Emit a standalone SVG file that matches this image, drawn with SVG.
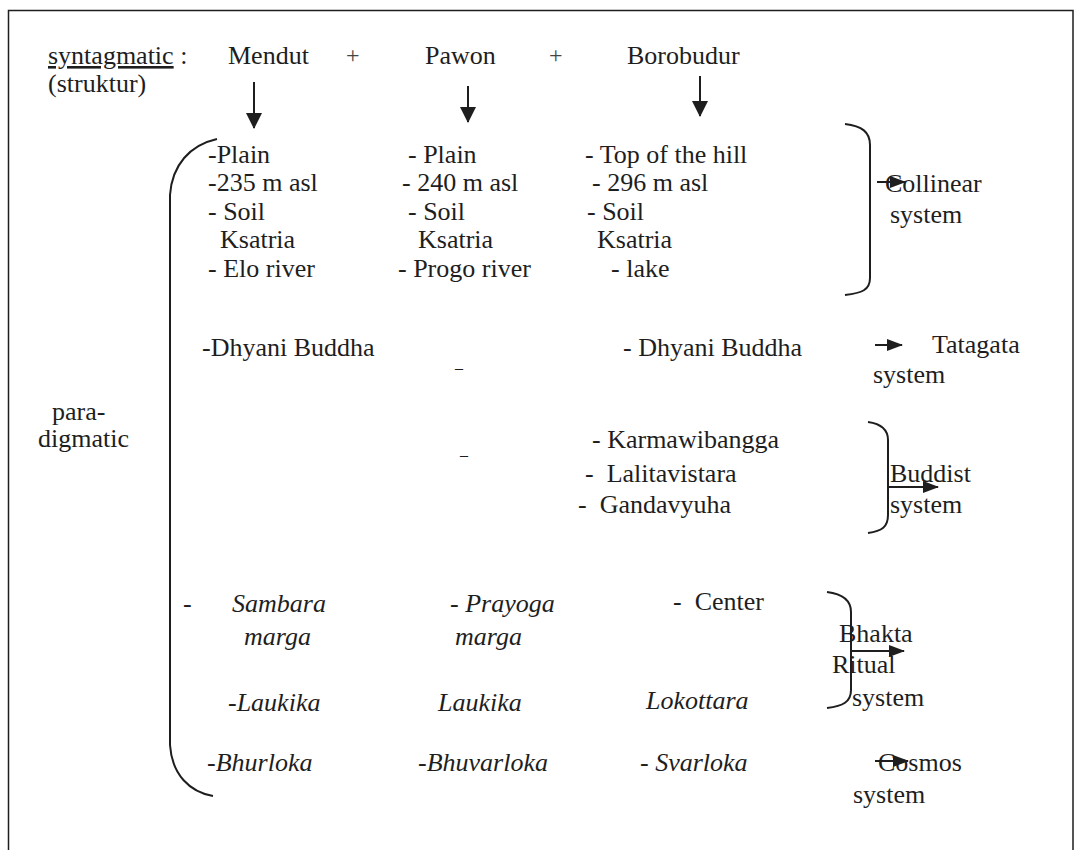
<svg xmlns="http://www.w3.org/2000/svg" width="1080" height="850" viewBox="0 0 1080 850">
<style>
text{font-family:"Liberation Serif","Times New Roman",serif;font-size:26px;fill:#1e1e1e;white-space:pre}
.i{font-style:italic}
.ln{fill:none;stroke:#1e1e1e;stroke-width:2}
.ar{fill:none;stroke:#1e1e1e;stroke-width:2}
.plus{font-size:24px;font-weight:300;fill:#444}
</style>
<defs>
<marker id="hdr" markerWidth="16" markerHeight="12" refX="15" refY="6" orient="auto" markerUnits="userSpaceOnUse" viewBox="0 0 16 12">
<path d="M0,0 L16,6 L0,12 Z" fill="#1e1e1e"/>
</marker>
<marker id="hdd" markerWidth="16" markerHeight="16" refX="15" refY="8" orient="auto" markerUnits="userSpaceOnUse" viewBox="0 0 16 16">
<path d="M0,0 L16,8 L0,16 Z" fill="#1e1e1e"/>
</marker>
</defs>
<rect x="0" y="0" width="1080" height="850" fill="#fff"/>
<path d="M8.5,860 L8.5,10.5 L1073,10.5 L1073,860" fill="none" stroke="#1e1e1e" stroke-width="1.5"/>

<g id="header">
<text x="48" y="64"><tspan text-decoration="underline">syntagmatic</tspan> :</text>
<text x="48" y="92">(struktur)</text>
</g>
<g id="mendut"><text x="228" y="64">Mendut</text></g>
<text class="plus" x="346" y="63">+</text>
<g id="pawon"><text x="425" y="64">Pawon</text></g>
<text class="plus" x="549" y="63">+</text>
<g id="borobudur"><text x="627" y="64">Borobudur</text></g>

<g id="paradigmatic">
<text x="52" y="420">para-</text>
<text x="38" y="447">digmatic</text>
</g>

<g id="brackets">
<path class="ln" d="M217,139 C190,145 172,165 170,195 L170,745 C172,775 190,792 213,796"/>
<path class="ln" d="M845,124 C862,126 870,132 870,145 L870,278 C870,290 862,293 845,295"/>
<path class="ln" d="M868,422 C882,424 888,430 888,440 L888,515 C888,527 882,531 868,533"/>
<path class="ln" d="M827,592 C843,594 851,600 851,612 L851,690 C851,702 843,706 827,708"/>
</g>

<g id="col-mendut">
<text x="208" y="163">-Plain</text>
<text x="208" y="191">-235 m asl</text>
<text x="208" y="220">- Soil</text>
<text x="220" y="248">Ksatria</text>
<text x="208" y="277">- Elo river</text>
<text x="202" y="356">-Dhyani Buddha</text>
<text x="183" y="612">-</text>
<text class="i" x="232" y="612">Sambara</text>
<text class="i" x="244" y="645">marga</text>
<text class="i" x="228" y="711">-Laukika</text>
<text class="i" x="207" y="771">-Bhurloka</text>
</g>

<g id="col-pawon">
<text x="408" y="163">- Plain</text>
<text x="402" y="191">- 240 m asl</text>
<text x="408" y="220">- Soil</text>
<text x="418" y="248">Ksatria</text>
<text x="398" y="277">- Progo river</text>
<text x="455" y="368" style="font-size:16px">_</text>
<text x="460" y="455" style="font-size:16px">_</text>
<text class="i" x="450" y="612">- Prayoga</text>
<text class="i" x="455" y="645">marga</text>
<text class="i" x="438" y="711">Laukika</text>
<text class="i" x="418" y="771">-Bhuvarloka</text>
</g>

<g id="col-borobudur">
<text x="585" y="163">- Top of the hill</text>
<text x="592" y="191">- 296 m asl</text>
<text x="587" y="220">- Soil</text>
<text x="597" y="248">Ksatria</text>
<text x="611" y="277">- lake</text>
<text x="623" y="356">- Dhyani Buddha</text>
<text x="592" y="448">- Karmawibangga</text>
<text x="585" y="482">-  Lalitavistara</text>
<text x="578" y="513">-  Gandavyuha</text>
<text x="673" y="610">-  Center</text>
<text class="i" x="646" y="709">Lokottara</text>
<text x="640" y="771">- <tspan class="i">Svarloka</tspan></text>
</g>

<g id="systems">
<text x="885" y="192">Collinear</text>
<text x="890" y="223">system</text>
<text x="932" y="353">Tatagata</text>
<text x="873" y="383">system</text>
<text x="890" y="482">Buddist</text>
<text x="890" y="513">system</text>
<text x="839" y="642">Bhakta</text>
<text x="832" y="673">Ritual</text>
<text x="852" y="706">system</text>
<text x="878" y="771">Cosmos</text>
<text x="853" y="803">system</text>
</g>

<g id="connectors">
<line class="ar" x1="254" y1="82" x2="254" y2="128" marker-end="url(#hdd)"/>
<line class="ar" x1="468" y1="86" x2="468" y2="122" marker-end="url(#hdd)"/>
<line class="ar" x1="700" y1="76" x2="700" y2="116" marker-end="url(#hdd)"/>
<line class="ar" x1="877" y1="182" x2="905" y2="182" marker-end="url(#hdr)"/>
<line class="ar" x1="875" y1="345" x2="902" y2="345" marker-end="url(#hdr)"/>
<line class="ar" x1="888" y1="487" x2="938" y2="487" marker-end="url(#hdr)"/>
<line class="ar" x1="851" y1="651" x2="904" y2="651" marker-end="url(#hdr)"/>
<line class="ar" x1="875" y1="761" x2="908" y2="761" marker-end="url(#hdr)"/>
</g>
</svg>
